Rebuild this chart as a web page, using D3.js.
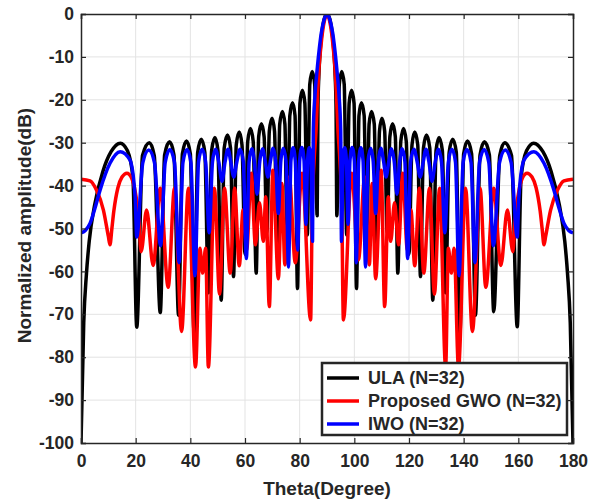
<!DOCTYPE html>
<html>
<head>
<meta charset="UTF-8">
<title>Normalized array pattern</title>
<script src="https://d3js.org/d3.v7.min.js"></script>
<style>
  body { margin: 0; background: #fff; }
  svg text { font-family: "Liberation Sans", Arial, sans-serif; font-weight: bold; fill: #262626; }
</style>
</head>
<body>
<div id="chart"></div>
<script>
const xTicks = [0, 20, 40, 60, 80, 100, 120, 140, 160, 180];
const yTicks = [0, -10, -20, -30, -40, -50, -60, -70, -80, -90, -100];
const seriesNames = ['ULA (N=32)', 'Proposed GWO (N=32)', 'IWO (N=32)'];
const seriesColors = ['#000000', '#ff0000', '#0000ff'];

// [theta (deg), amplitude (dB)]: nulls, lobe shoulders, peaks
const ulaPattern = [
  [0,-100],[1,-72],[2,-60.5],[3,-53],[5,-44.5],[8,-36.7],[11,-32.1],[14.4,-30.1],[17,-31.9],[19,-38.2],[20.4,-73],
  [22.5,-33],[25.0,-30.0],[26.8,-33],[29.0,-69.6],
  [30.6,-32.8],[32.4,-29.8],[34.0,-32.8],[35.7,-70.2],
  [37.1,-32.6],[38.6,-29.6],[40.0,-32.6],[41.4,-74.8],
  [42.7,-32.2],[44.0,-29.2],[45.3,-32.2],[46.6,-65],
  [47.8,-31.8],[49.0,-28.8],[50.1,-31.8],[51.3,-66.7],
  [52.4,-31.2],[53.6,-28.2],[54.7,-31.2],[55.8,-61.2],
  [56.8,-30.5],[57.9,-27.5],[58.9,-30.5],[60.0,-56],
  [61.0,-29.7],[62.0,-26.7],[63.0,-29.7],[64.1,-60.4],
  [65.0,-28.6],[66.0,-25.6],[67.0,-28.6],[68.0,-51],
  [68.9,-27.3],[69.9,-24.3],[70.8,-27.3],[71.8,-55.4],
  [72.7,-25.7],[73.7,-22.7],[74.6,-25.7],[75.5,-57],
  [76.4,-23.7],[77.4,-20.7],[78.3,-23.7],[79.2,-64],
  [80.1,-20.8],[81.0,-17.8],[81.9,-20.8],[82.8,-51.5],
  [83.7,-16.4],[84.6,-13.4],[85.5,-16.4],[86.4,-47],
  [86.7,-21.4],[87.0,-14.6],[87.5,-8.6],[88.0,-5.0],[89.0,-1.1],[90.0,0],
  [91.0,-1.1],[92.0,-5.0],[92.5,-8.6],[93.0,-14.6],[93.3,-21.4],[93.6,-47],
  [94.5,-16.4],[95.4,-13.4],[96.3,-16.4],[97.2,-51.5],
  [98.1,-20.8],[99.0,-17.8],[99.9,-20.8],[100.8,-64],
  [101.7,-23.7],[102.6,-20.7],[103.6,-23.7],[104.5,-57],
  [105.4,-25.7],[106.3,-22.7],[107.3,-25.7],[108.2,-55.4],
  [109.2,-27.3],[110.1,-24.3],[111.1,-27.3],[112.0,-51],
  [113.0,-28.6],[114.0,-25.6],[115.0,-28.6],[115.9,-60.4],
  [117.0,-29.7],[118.0,-26.7],[119.0,-29.7],[120.0,-56],
  [121.1,-30.5],[122.1,-27.5],[123.2,-30.5],[124.2,-61.2],
  [125.3,-31.2],[126.4,-28.2],[127.6,-31.2],[128.7,-66.7],
  [129.9,-31.8],[131.0,-28.8],[132.2,-31.8],[133.4,-65],
  [134.7,-32.2],[136.0,-29.2],[137.3,-32.2],[138.6,-74.8],
  [140.0,-32.6],[141.4,-29.6],[142.9,-32.6],[144.3,-70.2],
  [146.0,-32.8],[147.6,-29.8],[149.4,-32.8],[151.0,-69.4],
  [153.2,-33],[155.0,-30.0],[157.5,-33],[159.6,-72.9],
  [161,-38.2],[163,-31.9],[165.6,-30.1],[169,-32.1],[172,-36.7],[175,-44.5],[177,-53],[178,-60.5],[179,-72],[180,-100]
];

const gwoPattern = [
  [0,-38.5],[3.3,-38.9],[5.7,-41.1],[8.2,-45.7],[10.0,-51.8],[10.6,-53.8],[11.3,-50],[12,-46],[13.5,-40.5],[15,-38],
  [16.8,-37.1],[18.5,-38.2],[20,-42],[21.2,-48],[22.0,-55.4],
  [24.0,-45.7],[26.4,-58.6],[29.0,-40.6],[31.9,-63.7],[34.2,-40.6],[36.8,-74],[39.3,-40.6],[41.9,-82.3],
  [43.5,-54.6],[44.5,-60.4],[45.6,-54.6],[46.6,-82.3],[48.8,-40.6],[50.7,-65.3],[52.5,-40.6],[54.6,-60.4],
  [56.2,-40.6],[57.9,-58.7],[59.3,-45.7],[60.6,-55],[62.3,-37.1],[63.8,-53.8],[65.3,-44],[66.7,-53],
  [67.6,-42.6],[68.9,-68.2],[70.2,-36.4],[72.2,-61.7],[73.5,-39.5],[74.6,-58.5],[76.2,-38],[78.4,-58],
  [80.9,-37.1],[84.0,-71.3],
  [84.6,-45],[85.3,-34],[86.0,-27],[86.6,-18],[87.1,-12.3],[87.7,-8],[88.3,-4.5],[89.2,-1.2],[90,0],
  [90.8,-1.2],[91.7,-4.5],[92.3,-8],[92.9,-12.3],[93.4,-18],[94.0,-27],[94.7,-34],[95.4,-45],[96.0,-71.3],
  [99.0,-37.1],[101.5,-57.3],[103.8,-38],[105.5,-58.5],[106.5,-39.5],[107.8,-61.7],[109.8,-36.4],[111.1,-68.2],
  [112.4,-42.6],[113.3,-53],[114.7,-44],[116.2,-53.8],[117.7,-37.1],[119.4,-55],[120.7,-45.7],[122.1,-58.7],
  [123.8,-40.6],[125.4,-60.4],[127.5,-40.6],[129.3,-65.3],[131.2,-40.6],[133.4,-82.3],[134.4,-54.6],[135.5,-60.4],
  [136.5,-54.6],[138.1,-82.3],[140.7,-40.6],[143.2,-74],[146.0,-40.6],[148.1,-63.7],[151.0,-40.6],[153.6,-58.6],
  [156.0,-45.7],[158.0,-55.4],[158.8,-48],[160,-42],[161.5,-38.2],[163.2,-37.1],[165,-38],[166.5,-40.5],
  [168,-46],[168.7,-50],[169.4,-53.8],[170,-51.8],[171.8,-45.7],[174.3,-41.1],[176.7,-38.9],[180,-38.5]
];

const iwoPattern = [
  [0,-51],[1.5,-50.5],[3.3,-48.8],[5,-45.5],[7,-41],[10.6,-34.8],[14.3,-32.1],[17.9,-34],[19.8,-42.6],[20.4,-52],
  [22.6,-34.7],[24.8,-31.7],[26.9,-34.7],[29.1,-54],
  [30.8,-34.6],[32.5,-31.6],[34.2,-34.6],[35.9,-58],
  [37.3,-34.6],[38.8,-31.6],[40.2,-34.6],[41.7,-61],
  [43.0,-34.5],[44.3,-31.5],[45.6,-34.5],[46.9,-51],
  [48.1,-34.5],[49.2,-31.5],[50.4,-34.5],[51.6,-39],
  [52.7,-34.5],[53.8,-31.5],[54.8,-34.5],[55.9,-38],
  [57.0,-34.5],[58.2,-31.5],[59.4,-34.5],[60.5,-57],
  [61.5,-34.4],[62.5,-31.4],[63.4,-34.4],[64.4,-42],
  [65.4,-34.4],[66.4,-31.4],[67.4,-34.4],[68.4,-38],
  [69.3,-34.3],[70.3,-31.3],[71.2,-34.3],[72.2,-46.5],
  [73.1,-34.3],[74.0,-31.3],[75.0,-34.3],[75.9,-59],
  [76.8,-34.2],[77.6,-31.2],[78.4,-34.2],[79.3,-55],
  [80.0,-34.1],[80.8,-31.1],[81.6,-34.1],[82.3,-49],
  [82.9,-34.2],[83.5,-31.2],[84.1,-34.2],[84.7,-53],
  [85.0,-27],[85.6,-19],[86.5,-12.3],[87.2,-8],[87.9,-4.5],[89,-1.2],[90,0],
  [91,-1.2],[92.1,-4.5],[92.8,-8],[93.5,-12.3],[94.4,-19],[95.0,-27],[95.3,-53],
  [95.9,-34.2],[96.5,-31.2],[97.1,-34.2],[97.7,-49],
  [98.4,-34.1],[99.2,-31.1],[100.0,-34.1],[100.7,-58],
  [101.6,-34.2],[102.4,-31.2],[103.2,-34.2],[104.1,-59],
  [105.0,-34.3],[106.0,-31.3],[106.9,-34.3],[107.8,-46.5],
  [108.8,-34.3],[109.7,-31.3],[110.7,-34.3],[111.6,-38],
  [112.6,-34.4],[113.6,-31.4],[114.6,-34.4],[115.6,-42],
  [116.6,-34.4],[117.5,-31.4],[118.5,-34.4],[119.5,-57],
  [120.6,-34.5],[121.8,-31.5],[123.0,-34.5],[124.1,-38],
  [125.2,-34.5],[126.2,-31.5],[127.3,-34.5],[128.4,-39],
  [129.6,-34.5],[130.8,-31.5],[131.9,-34.5],[133.1,-51],
  [134.4,-34.5],[135.7,-31.5],[137.0,-34.5],[138.3,-61],
  [139.8,-34.6],[141.2,-31.6],[142.7,-34.6],[144.1,-58],
  [145.8,-34.6],[147.5,-31.6],[149.2,-34.6],[150.9,-54],
  [153.1,-34.7],[155.2,-31.7],[157.4,-34.7],[159.6,-52],
  [160.2,-42.6],[162.1,-34],[165.7,-32.1],[169.4,-34.8],[173,-41],[175,-45.5],[176.7,-48.8],[178.5,-50.5],[180,-51]
];

const patterns = [ulaPattern, gwoPattern, iwoPattern];

const width = 598, height = 501;
const margin = { top: 14, right: 25, bottom: 58, left: 81 };
const plotW = width - margin.left - margin.right;
const plotH = height - margin.top - margin.bottom;

const svg = d3.select('#chart').append('svg')
  .attr('width', width)
  .attr('height', height);

const x = d3.scaleLinear().domain([0, 180]).range([0, plotW]);
const y = d3.scaleLinear().domain([-100, 0]).range([plotH, 0]);

const g = svg.append('g').attr('transform', `translate(${margin.left},${margin.top})`);

// grid
g.append('g').selectAll('line').data(xTicks.slice(1, -1)).enter().append('line')
  .attr('x1', d => x(d)).attr('x2', d => x(d))
  .attr('y1', 0).attr('y2', plotH)
  .attr('stroke', '#e3e3e3').attr('stroke-width', 1);
g.append('g').selectAll('line').data(yTicks.slice(1, -1)).enter().append('line')
  .attr('x1', 0).attr('x2', plotW)
  .attr('y1', d => y(d)).attr('y2', d => y(d))
  .attr('stroke', '#e3e3e3').attr('stroke-width', 1);

svg.append('defs').append('clipPath').attr('id', 'plot-clip')
  .append('rect').attr('width', plotW).attr('height', plotH);

const line = d3.line()
  .x(d => x(d[0]))
  .y(d => y(d[1]))
  .curve(d3.curveMonotoneX);

const curves = g.append('g').attr('clip-path', 'url(#plot-clip)');
patterns.forEach((p, i) => {
  curves.append('path')
    .datum(p)
    .attr('d', line)
    .attr('fill', 'none')
    .attr('stroke', seriesColors[i])
    .attr('stroke-width', 3.5)
    .attr('stroke-linejoin', 'round');
});

// axes, ticks inside on all four sides
const tickLen = 5;
const axisColor = '#262626';
const plainNum = d => String(d);
g.append('g').attr('transform', `translate(0,${plotH})`)
  .call(d3.axisBottom(x).tickValues(xTicks).tickSize(-tickLen).tickPadding(12).tickFormat(plainNum));
g.append('g')
  .call(d3.axisTop(x).tickValues(xTicks).tickSize(-tickLen).tickFormat(''));
g.append('g')
  .call(d3.axisLeft(y).tickValues(yTicks).tickSize(-tickLen).tickPadding(7).tickFormat(plainNum));
g.append('g').attr('transform', `translate(${plotW},0)`)
  .call(d3.axisRight(y).tickValues(yTicks).tickSize(-tickLen).tickFormat(''));

g.selectAll('.domain').attr('stroke', axisColor).attr('stroke-width', 1.5);
g.selectAll('.tick line').attr('stroke', axisColor).attr('stroke-width', 1.2);
g.selectAll('.tick text')
  .attr('font-size', 17.5)
  .attr('font-family', '"Liberation Sans", Arial, sans-serif')
  .attr('font-weight', 'bold')
  .attr('fill', '#262626');

// axis titles
svg.append('text')
  .attr('x', margin.left + plotW / 2)
  .attr('y', 495)
  .attr('text-anchor', 'middle')
  .attr('font-size', 19)
  .text('Theta(Degree)');
svg.append('text')
  .attr('transform', `translate(31,${margin.top + plotH / 2 - 3}) rotate(-90)`)
  .attr('text-anchor', 'middle')
  .attr('font-size', 19)
  .text('Normalized amplitude(dB)');

// legend
const legend = svg.append('g').attr('transform', 'translate(322,363)');
legend.append('rect')
  .attr('width', 245).attr('height', 72)
  .attr('fill', '#fff')
  .attr('stroke', axisColor).attr('stroke-width', 2.5);
seriesNames.forEach((name, i) => {
  const ly = 15 + i * 23;
  legend.append('line')
    .attr('x1', 5).attr('x2', 37)
    .attr('y1', ly).attr('y2', ly)
    .attr('stroke', seriesColors[i]).attr('stroke-width', 3.5);
  legend.append('text')
    .attr('x', 46).attr('y', ly + 6)
    .attr('font-size', 18)
    .attr('fill', '#111')
    .text(name);
});
</script>
</body>
</html>
